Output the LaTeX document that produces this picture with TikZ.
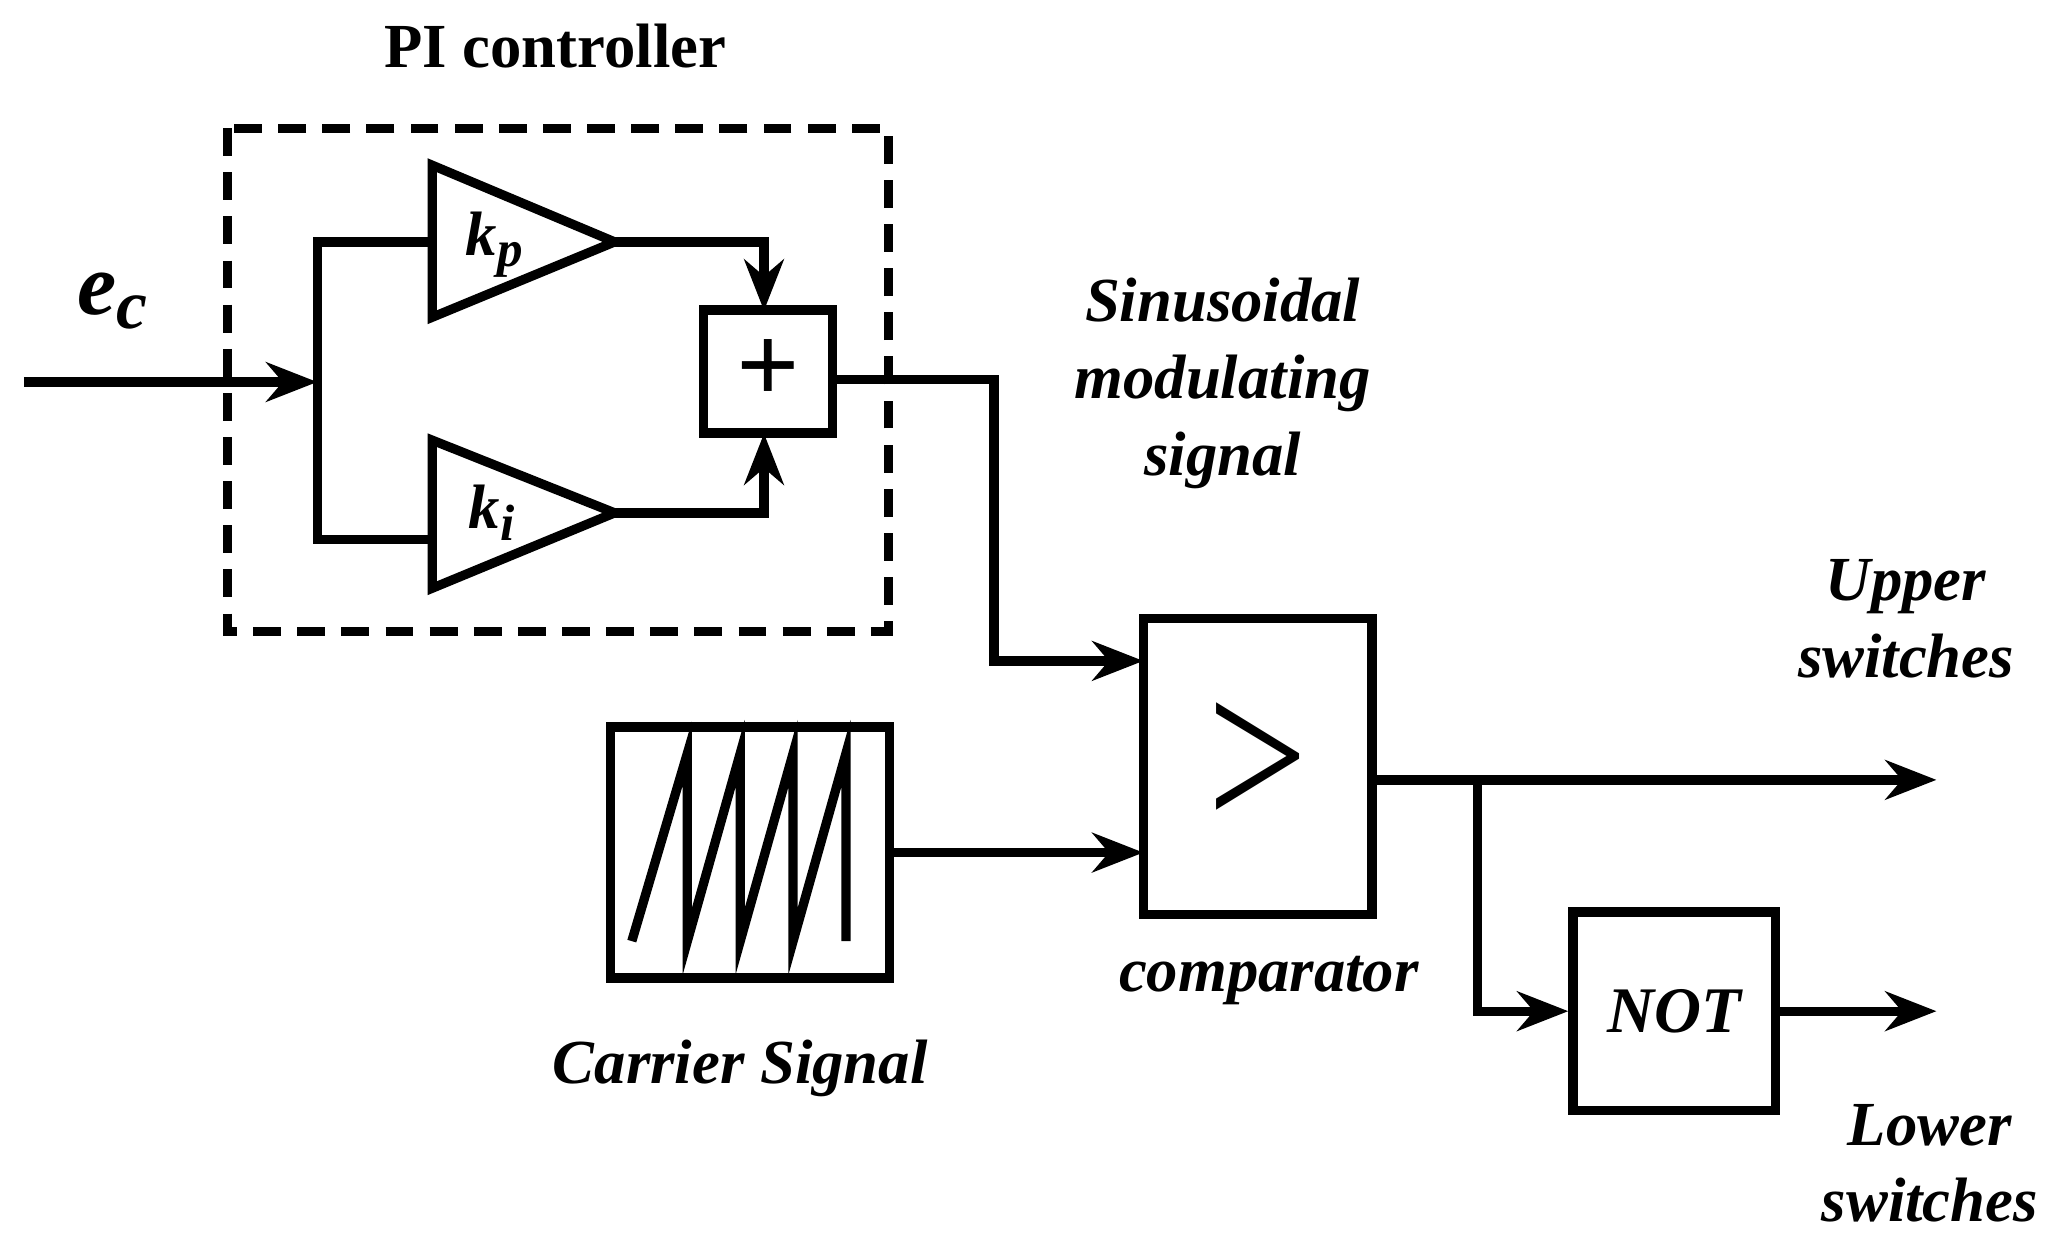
\documentclass[tikz,border=0pt]{standalone}
\usepackage{fontspec}
\usepackage{graphicx}
\setmainfont{Liberation Serif}
\usetikzlibrary{arrows.meta,calc}
\begin{document}
\begin{tikzpicture}[x=0.02cm,y=-0.02cm,
  ln/.style={line width=4pt},
  arr/.style={ln,-{Stealth[length=22pt,width=17pt]}},
  blk/.style={draw,line width=4pt,inner sep=0pt},
  lab/.style={font=\fontsize{27}{33}\selectfont\bfseries\itshape,align=center}]
\useasboundingbox (0,0) rectangle (1560,941);
% PI box
\draw[line width=4pt,dash pattern=on 12pt off 7pt] (172,97) rectangle (672,478);
\node[font=\fontsize{27}{33}\selectfont\bfseries] (pi) at (420,35) {PI controller};
\node[font=\fontsize{38}{44}\selectfont\bfseries\itshape] (ec) at (85,228) {e\raisebox{-0.35ex}{\fontsize{30}{34}\selectfont c}};
% amplifiers
\draw[ln,line join=miter] (327,125) -- (465,183) -- (327,240) -- cycle;
\draw[ln,line join=miter] (327,333) -- (465,388) -- (327,445) -- cycle;
\node[lab] (kp) at (374,185) {k\raisebox{-0.4ex}{\fontsize{22}{26}\selectfont p}};
\node[lab] (ki) at (372,388) {k\raisebox{-0.4ex}{\fontsize{22}{26}\selectfont i}};
\coordinate (in) at (18,289);
\coordinate (br) at (240,289);
\draw[arr] (in) -- (br);
\draw[ln] (327,183) -- (240,183) -- (240,408) -- (327,408);
% sum
\node[blk,minimum width=1.96cm,minimum height=1.86cm] (sum) at (581,281) {\fontsize{48}{48}\selectfont\bfseries +};
\draw[arr] (465,183) -- (578,183) -- (578,235);
\draw[arr] (465,388) -- (578,388) -- (578,328);
% comparator
\node[blk,minimum width=3.46cm,minimum height=4.48cm] (cmp) at (951.5,580) {\scalebox{3.2}[4]{\fontsize{24}{24}\selectfont >}};
\coordinate (so) at (630,287);
\draw[arr] (so) -- (752,287) -- (752,500) -- (865,500);
% carrier
\node[blk,minimum width=4.22cm,minimum height=3.8cm] (car) at (567.5,645) {};
\draw[ln,line join=miter] (478,712) -- (520,570) -- (520,712) -- (560,570) -- (560,712) -- (600,570) -- (600,712) -- (640,570) -- (640,712);
\draw[arr] (car.east) -- (865,645);
% outputs
\node[blk,minimum width=3.06cm,minimum height=3cm,font=\fontsize{28}{32}\selectfont\bfseries\itshape] (not) at (1266.5,765) {NOT};
\coordinate (up) at (1465,590);
\coordinate (lo) at (1465,765);
\draw[arr] (1038,590) -- (up);
\draw[arr] (1118,590) -- (1118,765) -- (not.west);
\draw[arr] (not.east) -- (lo);
% labels
\node[lab] (sms) at (925,290) {Sinusoidal\\modulating\\signal};
\node[lab] (cl) at (960,742) {comparator};
\node[lab] (cs) at (560,808) {Carrier Signal};
\node[lab] (us) at (1442,468) {Upper\\switches};
\node[lab] (ls) at (1460,880) {Lower\\switches};
\end{tikzpicture}
\end{document}
